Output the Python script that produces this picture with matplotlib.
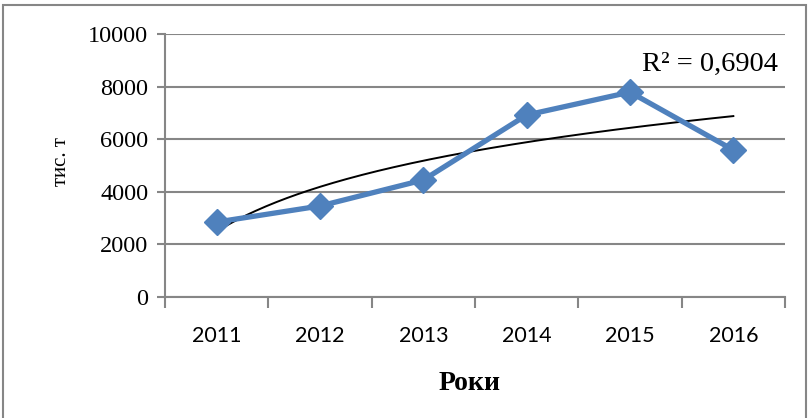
import numpy as np
import matplotlib
matplotlib.use("Agg")
import matplotlib.pyplot as plt
from matplotlib.patches import Rectangle
from matplotlib import font_manager

years = ["2011", "2012", "2013", "2014", "2015", "2016"]
values = [2850, 3460, 4450, 6920, 7790, 5590]
yticks = [0, 2000, 4000, 6000, 8000, 10000]
r2_label = "R² = 0,6904"

names = {f.name for f in font_manager.fontManager.ttflist}
xfont = "Liberation Sans Narrow" if "Liberation Sans Narrow" in names else "Lato"
xsize = 18 if xfont == "Liberation Sans Narrow" else 15.5

fig = plt.figure(figsize=(8.09, 4.18), dpi=100)
ax = fig.add_axes([165/809, 1-297/418, 620/809, 263/418])

x = np.arange(len(years))
# logarithmic trendline fitted to the data
lx = np.log(x + 1)
b, a = np.polyfit(lx, values, 1)
xt = np.linspace(0, len(years) - 1, 200)
yt = a + b * np.log(xt + 1)

ax.plot(xt, yt, color="black", lw=1.4, zorder=3)
ax.plot(x, values, color="#4F81BD", lw=3.8, marker="D", markersize=13,
        markerfacecolor="#4F81BD", markeredgecolor="#4F81BD", zorder=4)

ax.set_xlim(-0.5, len(years) - 0.5)
ax.set_ylim(0, 10000)
ax.set_yticks(yticks)
ax.set_yticklabels([str(v) for v in yticks], fontfamily="Liberation Serif", fontsize=17.5)
ax.set_xticks(x)
ax.set_xticklabels(years, fontfamily=xfont, fontsize=xsize)
ax.set_xticks(np.arange(-0.5, len(years)), minor=True)
ax.tick_params(axis="x", which="major", length=0, pad=21)
ax.tick_params(axis="x", which="minor", length=8, width=1.5, color="#868686")
ax.tick_params(axis="y", length=6, width=1.5, color="#868686", pad=6)

ax.grid(axis="y", color="#868686", lw=1.5)
ax.set_axisbelow(True)
for s in ["top", "right"]:
    ax.spines[s].set_visible(False)
for s in ["left", "bottom"]:
    ax.spines[s].set_color("#868686")
    ax.spines[s].set_linewidth(1.5)

fig.text(470/809, 1-384/418, "Роки", fontfamily="Liberation Serif", fontweight="bold",
         fontsize=20, ha="center", va="center")
fig.text(62/809, 1-162/418, "тис. т", fontfamily="Liberation Serif", fontsize=15,
         rotation=90, ha="center", va="center")
fig.text(710/809, 1-64/418, r2_label, fontfamily="Liberation Serif", fontsize=20.5,
         ha="center", va="center")

fig.patches.append(Rectangle((3/809, -0.05), 803/809, 1.0 - 5/418 + 0.05,
                             transform=fig.transFigure, fill=False,
                             edgecolor="#868686", lw=1.5))

fig.savefig("out.png", dpi=100)
